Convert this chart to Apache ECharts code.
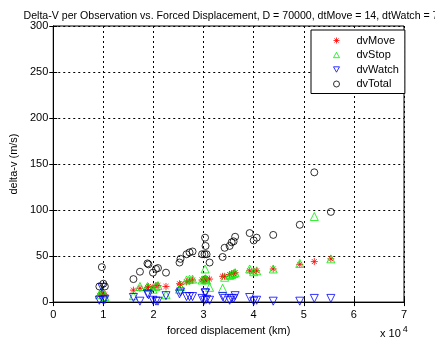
<!DOCTYPE html>
<html>
<head>
<meta charset="utf-8">
<script src="https://cdn.jsdelivr.net/npm/echarts@6/dist/echarts.min.js"></script>
<style>
html,body{margin:0;padding:0;background:#fff;}
#chart{width:435px;height:341px;}
</style>
</head>
<body>
<div id="chart"></div>
<script>
// forced displacement (km) per observation
var disp    = [9200, 9700, 10000, 10300, 16000, 17300, 18800, 19000, 19900, 20500, 20900, 22500,
               25200, 25400, 26600, 27200, 27800, 29700, 30200, 30600, 30300, 30400, 31200,
               33800, 34200, 35200, 35600, 36000, 36300, 39200, 40000, 40600, 43900, 49200, 52100, 55400];
var dvMove  = [7, 10, 9, 8, 13, 15, 16, 17, 16, 18, 18, 17,
               20, 19, 22, 23, 24, 24, 25, 25, 24, 26, 25,
               28, 28, 30, 31, 31, 32, 34, 33, 34, 36, 41, 44, 47];
var dvStop  = [8, 12, 9, 6, 7, 17, 17, 16, 14, 17, 18, 8,
               14, 17, 24, 25, 25, 24, 25, 24, 36, 25, 16,
               15, 27, 29, 30, 31, 32, 36, 33, 34, 36, 42, 93, 47];
var dvWatch = [2, 16, 2, 3, 5, 1, 9, 8, 2, 1, 1, 7,
               9, 11, 6, 6, 6, 4, 2, 3, 10, 10, 2,
               6, 4, 2, 4, 4, 7, 5, 1, 2, 1, 1, 4, 4];
var dvTotal = [17, 38, 20, 17, 25, 33, 42, 41, 32, 36, 37, 32,
               43, 47, 52, 54, 55, 52, 52, 52, 70, 61, 43,
               49, 59, 61, 65, 66, 71, 75, 67, 70, 73, 84, 141, 98];
var xTicks = [0, 1, 2, 3, 4, 5, 6, 7];

function pts(ys){
	var out = [];
	for (var i = 0; i < disp.length; i++) out.push([disp[i], ys[i]]);
	return out;
}

var chart = echarts.init(document.getElementById('chart'));
var font = 'Liberation Sans, Arial, sans-serif';
var star = 'path://M5,0L5,10M0,5L10,5M1.5,1.5L8.5,8.5M8.5,1.5L1.5,8.5';
var upTri = 'path://M5,0L10,9L0,9Z';
var downTri = 'path://M0,0L10,0L5,9Z';
var gridLine = {show:true, lineStyle:{color:'#000', type:[2,3], width:1}};
var cMove = '#ff0000', cStop = '#00ee00', cWatch = '#0000ff', cTotal = '#000';

function hollow(c){ return {color: 'none', borderColor: c, borderWidth: 1}; }

var option = {
	animation: false,
	backgroundColor: '#fff',
	textStyle: {fontFamily: font},
	title: {
		text: 'Delta-V per Observation vs. Forced Displacement, D = 70000, dtMove = 14, dtWatch = 7',
		left: 226, top: 6, textAlign: 'center',
		textStyle: {fontSize: 10.6, fontWeight: 'normal', color: '#000', fontFamily: font}
	},
	grid: {left: 49, right: 31, top: 26, bottom: 36, show: true, borderColor: '#000', borderWidth: 1},
	legend: {
		orient: 'vertical', left: 311, top: 30,
		padding: [5, 6, 4, 20],
		itemWidth: 6, itemHeight: 6, itemGap: 3.5,
		backgroundColor: '#fff', borderColor: '#000', borderWidth: 1, borderRadius: 0,
		textStyle: {fontSize: 11, color: '#000', fontFamily: font, padding: [0, 0, 0, 12]},
		data: [
			{name: 'dvMove', icon: star, itemStyle: hollow(cMove)},
			{name: 'dvStop', icon: upTri, itemStyle: hollow(cStop)},
			{name: 'dvWatch', icon: downTri, itemStyle: hollow(cWatch)},
			{name: 'dvTotal', icon: 'circle', itemStyle: hollow(cTotal)}
		]
	},
	xAxis: [{
		type: 'value', min: 0, max: 70000, interval: 10000,
		name: 'forced displacement (km)', nameLocation: 'middle', nameGap: 20,
		nameTextStyle: {fontSize: 11, color: '#000'},
		axisLine: {show: true, lineStyle: {color: '#000'}},
		axisTick: {show: true, inside: true, length: 4, lineStyle: {color: '#000'}},
		axisLabel: {fontSize: 11, color: '#000', margin: 7, formatter: function(v){ return xTicks[v / 10000]; }},
		splitLine: gridLine
	}, {
		type: 'value', position: 'top', min: 0, max: 70000, interval: 10000,
		axisLine: {show: true, lineStyle: {color: '#000'}},
		axisTick: {show: true, inside: true, length: 4, lineStyle: {color: '#000'}},
		axisLabel: {show: false}, splitLine: {show: false}
	}],
	yAxis: [{
		type: 'value', min: 0, max: 300, interval: 50,
		name: 'delta-v (m/s)', nameLocation: 'middle', nameGap: 28,
		nameTextStyle: {fontSize: 11, color: '#000'},
		axisLine: {show: true, lineStyle: {color: '#000'}},
		axisTick: {show: true, inside: true, length: 4, lineStyle: {color: '#000'}},
		axisLabel: {fontSize: 11, color: '#000', margin: 5},
		splitLine: gridLine
	}, {
		type: 'value', position: 'right', min: 0, max: 300, interval: 50,
		axisLine: {show: true, lineStyle: {color: '#000'}},
		axisTick: {show: true, inside: true, length: 4, lineStyle: {color: '#000'}},
		axisLabel: {show: false}, splitLine: {show: false}
	}],
	graphic: [{
		type: 'text', left: 380, top: 325,
		style: {
			text: 'x 10{s|4}', fill: '#000', font: '11px ' + font,
			rich: {s: {fontSize: 9, verticalAlign: 'top', padding: [0, 0, 9, 2]}}
		}
	}],
	series: [{
		name: 'dvMove', type: 'scatter', symbol: star, symbolSize: 7,
		itemStyle: hollow(cMove), data: pts(dvMove)
	}, {
		name: 'dvStop', type: 'scatter', symbol: upTri, symbolSize: 8,
		itemStyle: hollow(cStop), data: pts(dvStop)
	}, {
		name: 'dvWatch', type: 'scatter', symbol: downTri, symbolSize: 8,
		itemStyle: hollow(cWatch), data: pts(dvWatch)
	}, {
		name: 'dvTotal', type: 'scatter', symbol: 'circle', symbolSize: 7,
		itemStyle: hollow(cTotal), data: pts(dvTotal)
	}]
};
chart.setOption(option);
</script>
</body>
</html>
